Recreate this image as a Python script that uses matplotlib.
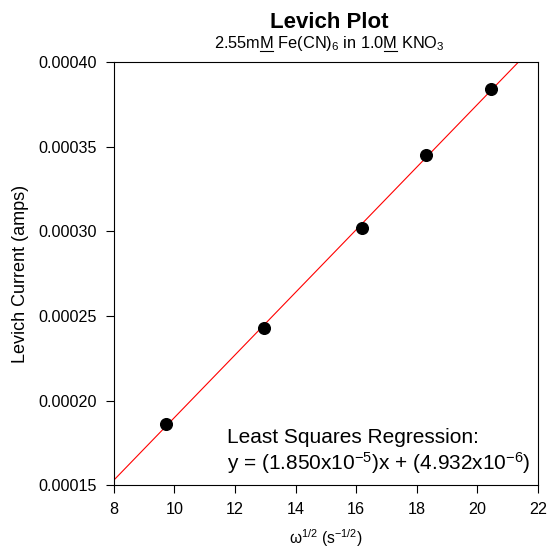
import numpy as np
import matplotlib
matplotlib.use('Agg')
import matplotlib.pyplot as plt
from matplotlib.ticker import FormatStrFormatter
from matplotlib.lines import Line2D

plt.rcParams['font.family'] = ['Liberation Sans', 'DejaVu Sans']
plt.rcParams['mathtext.fontset'] = 'custom'
plt.rcParams['mathtext.rm'] = 'Liberation Sans'
plt.rcParams['mathtext.it'] = 'Liberation Sans:italic'
plt.rcParams['mathtext.bf'] = 'Liberation Sans:bold'

# data: sqrt of rotation rate (rad/s) vs limiting current
omega_sqrt = [9.708, 12.944, 16.180, 18.305, 20.466]
current = [0.000186, 0.0002428, 0.0003019, 0.000345, 0.000384]

# regression from the chart
slope = 1.850e-5
intercept = 4.932e-6

fig = plt.figure(figsize=(5.5, 5.5), dpi=100)
ax = fig.add_axes([0.207, 0.118, 0.771, 0.769])

xfit = np.array([8, 22])
ax.plot(xfit, slope * xfit + intercept, color='red', lw=0.8)
ax.plot(omega_sqrt, current, 'o', color='black', markersize=8.4)

ax.set_xlim(8, 22)
ax.set_ylim(0.00015, 0.00040)
ax.set_xticks(np.arange(8, 23, 2))
ax.set_yticks(np.arange(0.00015, 0.000401, 0.00005))
ax.yaxis.set_major_formatter(FormatStrFormatter('%.5f'))
ax.tick_params(direction='out', length=6, width=0.8, pad=6, labelsize=11.6, top=False, right=False)
for s in ax.spines.values():
    s.set_linewidth(0.8)

ax.set_xlabel(r'ω$^{1/2}$ (s$^{-1/2}$)', fontsize=11.2)
ax.set_ylabel('Levich Current (amps)', fontsize=13)
ax.xaxis.set_label_coords(0.5, -0.099)
ax.yaxis.set_label_coords(-0.200, 0.5)

fig.text(0.598, 0.949, 'Levich Plot', ha='center', va='baseline', fontsize=16, fontweight='bold')
sub = r'2.55mM Fe(CN)$_6$ in 1.0M KNO$_3$'
st = fig.text(0.598, 0.9127, sub, ha='center', va='baseline', fontsize=11.8)

ax.text(0.2665, 0.100, 'Least Squares Regression:', transform=ax.transAxes, fontsize=15)
ax.text(0.2665, 0.037, r'y = (1.850x10$^{-5}$)x + (4.932x10$^{-6}$)', transform=ax.transAxes, fontsize=15)

# underline the two "M" (molar) in the subtitle
fig.canvas.draw()
rend = fig.canvas.get_renderer()
bb = st.get_window_extent(rend)
prop = st.get_fontproperties()
def w(s):
    return rend.get_text_width_height_descent(s, prop, ismath=True)[0]
base_y = 0.9127 * fig.bbox.height - 3
for pre in ['2.55m', r'2.55mM Fe(CN)$_6$ in 1.0']:
    x0 = bb.x0 + w(pre)
    x1 = bb.x0 + w(pre + 'M')
    fig.add_artist(Line2D([x0 / fig.bbox.width, x1 / fig.bbox.width],
                          [base_y / fig.bbox.height] * 2,
                          transform=fig.transFigure, color='black', lw=0.8))

fig.savefig('out.png', dpi=100)
